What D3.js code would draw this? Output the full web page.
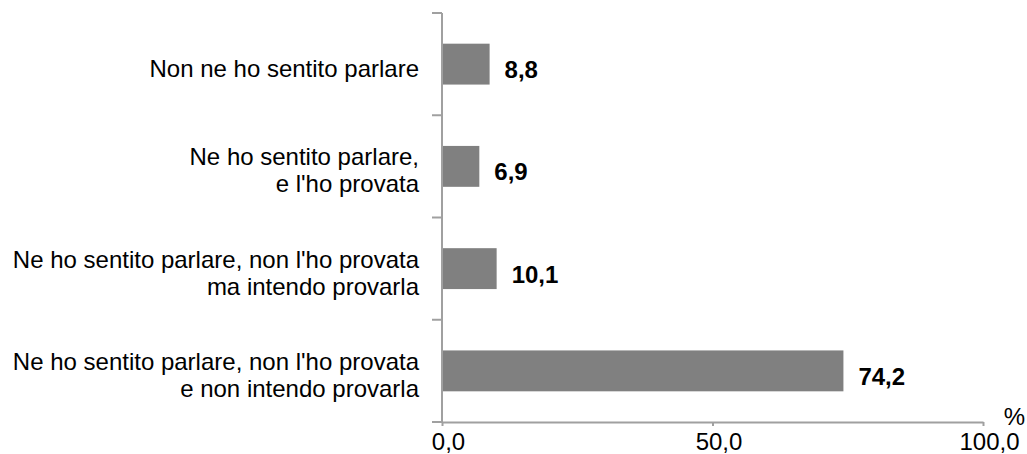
<!DOCTYPE html>
<html><head><meta charset="utf-8">
<script src="https://cdn.jsdelivr.net/npm/d3@7"></script>
<style>body{margin:0;background:#fff}svg{display:block}text{font-family:"Liberation Sans",Arial,sans-serif}</style>
</head><body>
<svg id="c" width="1027" height="454"></svg>
<script>
const categories = [
  ["Non ne ho sentito parlare"],
  ["Ne ho sentito parlare,", "e l'ho provata"],
  ["Ne ho sentito parlare, non l'ho provata", "ma intendo provarla"],
  ["Ne ho sentito parlare, non l'ho provata", "e non intendo provarla"]
];
const values = [8.8, 6.9, 10.1, 74.2];
const valueLabels = ["8,8", "6,9", "10,1", "74,2"];
const xTicks = [0, 50, 100];
const xTickLabels = ["0,0", "50,0", "100,0"];

(function () {
const svg = d3.select("#c");
const mLeft = 442, mRight = 983, mTop = 13, mBottom = 422;
const x = d3.scaleLinear().domain([0, 100]).range([mLeft, mRight]);
const y = d3.scaleBand().domain(d3.range(categories.length)).range([mTop, mBottom]).paddingInner(0.6).paddingOuter(0.3);
const axisColor = "#a0a0a0";
const fs = 24;

svg.selectAll("rect.bar").data(values).join("rect")
  .attr("x", x(0)).attr("y", (d, i) => y(i))
  .attr("width", d => x(d) - x(0)).attr("height", y.bandwidth())
  .attr("fill", "#808080");

svg.selectAll("text.val").data(values).join("text")
  .attr("x", d => x(d) + 15).attr("y", (d, i) => y(i) + y.bandwidth() / 2 + 14)
  .attr("font-size", fs).attr("font-weight", "bold")
  .attr("fill", "#000").text((d, i) => valueLabels[i]);

const yb = d3.scaleBand().domain(d3.range(categories.length)).range([mTop, mBottom]);
categories.forEach((lines, i) => {
  const cy = yb(i) + yb.bandwidth() / 2;
  const lh = 27;
  const t = svg.append("text").attr("text-anchor", "end").attr("font-size", fs).attr("fill", "#000");
  lines.forEach((l, j) => {
    t.append("tspan").attr("x", 419).attr("y", cy + (j - (lines.length - 1) / 2) * lh + 12.5).text(l);
  });
});

svg.append("line").attr("x1", mLeft).attr("x2", mLeft).attr("y1", mTop).attr("y2", mBottom)
  .attr("stroke", axisColor).attr("stroke-width", 2);
d3.range(categories.length + 1).forEach(i => {
  const yy = i < categories.length ? yb(i) : mBottom;
  svg.append("line").attr("x1", mLeft - 10).attr("x2", mLeft).attr("y1", yy).attr("y2", yy)
    .attr("stroke", axisColor).attr("stroke-width", 2);
});

const xAxis = d3.axisBottom(x).tickValues(xTicks).tickFormat((d, i) => xTickLabels[i]).tickSize(4).tickSizeOuter(0);
const gx = svg.append("g").attr("transform", `translate(0,${mBottom})`).call(xAxis);
gx.select(".domain").attr("stroke", axisColor).attr("stroke-width", 2);
gx.selectAll(".tick line").attr("stroke", axisColor).attr("stroke-width", 2);
gx.selectAll(".tick text").attr("font-size", fs).attr("fill", "#000")
  .attr("font-family", "Liberation Sans, Arial, sans-serif")
  .attr("y", 28).attr("dy", null).attr("dx", 6);

svg.append("text").attr("x", 1025).attr("y", 425).attr("text-anchor", "end").attr("font-size", fs).attr("fill", "#000").text("%");
})();
</script>
</body></html>
